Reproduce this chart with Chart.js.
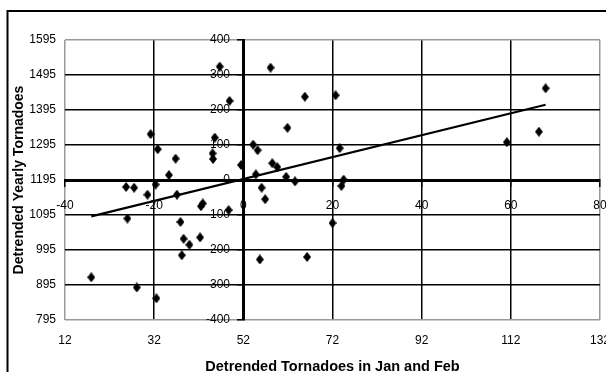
<!DOCTYPE html>
<html>
<head>
<meta charset="utf-8">
<script src="https://cdn.jsdelivr.net/npm/chart.js@4.4.0/dist/chart.umd.min.js"></script>
<style>
  html, body { margin: 0; padding: 0; background: #fff; }
  #wrap { width: 606px; height: 372px; }
</style>
</head>
<body>
<div id="wrap"><canvas id="tornadoChart" width="606" height="372"></canvas></div>
<script>
// detrended Jan+Feb tornado counts vs detrended yearly totals (one point per year)
const janFebDetrended = [
  -34.1, -26.0, -23.9, -19.5, -26.3, -24.5, -21.5, -19.7, -20.8, -19.2,
  -16.7, -15.2, -14.9, -14.1, -13.4, -12.1, -13.8, -9.7, -9.5, -9.1,
  -6.9, -6.8, -6.4, -5.3, -3.1, -3.3, -0.5, 2.2, 3.2, 2.8,
  4.1, 4.9, 3.7, 6.1, 9.9, 6.5, 7.6, 9.6, 11.6, 13.8,
  14.3, 20.7, 21.6, 22.5, 22.0, 20.0, 59.1, 66.3, 67.8
];
const yearlyDetrended = [
  -278, -110, -307, -338, -20, -22, -42, -13, 131, 88,
  14, 61, -42, -120, -168, -185, -215, -164, -75, -67,
  76, 60, 121, 324, 226, -86, 43, 101, 85, 16,
  -22, -55, -227, 321, 149, 48, 37, 9, -4, 238,
  -220, 242, 91, 1, -17, -123, 108, 138, 262
];

// fitted trend line, end points
const trendX = [-34.1, 67.8];
const trendY = [-104, 215];

// outer axes (raw counts) and inner axes (deviations)
const bottomTicks = [12, 32, 52, 72, 92, 112, 132];
const leftTicks = [795, 895, 995, 1095, 1195, 1295, 1395, 1495, 1595];
const innerXTicks = [-40, -20, 0, 20, 40, 60, 80];
const innerYTicks = [-400, -300, -200, -100, 0, 100, 200, 300, 400];

const FONT = 'Arial, "Liberation Sans", sans-serif';

// small black diamond used as the point marker
const diamond = document.createElement('canvas');
diamond.width = 8;
diamond.height = 10;
const dctx = diamond.getContext('2d');
dctx.fillStyle = '#000';
dctx.beginPath();
dctx.moveTo(4, 0);
dctx.lineTo(8, 5);
dctx.lineTo(4, 10);
dctx.lineTo(0, 5);
dctx.closePath();
dctx.fill();

const points = janFebDetrended.map((x, i) => ({ x: x, y: yearlyDetrended[i] }));
const trend = trendX.map((x, i) => ({ x: x, y: trendY[i] }));

const setTicks = (list) => (scale) => {
  scale.ticks = list.map(v => ({ value: v }));
};

// label overflow of every axis must not shrink the plot area
const noOverflow = (scale) => {
  scale.paddingLeft = 0;
  scale.paddingRight = 0;
  scale.paddingTop = 0;
  scale.paddingBottom = 0;
};

const gridColor = (count) => (ctx) =>
  (ctx.index === 0 || ctx.index === count - 1) ? '#9a9a9a' : '#000';

const frame = {
  id: 'frame',
  beforeDraw(chart) {
    const c = chart.ctx;
    c.save();
    c.fillStyle = '#fff';
    c.fillRect(0, 0, chart.width, chart.height);
    c.restore();
  },
  afterDraw(chart) {
    const c = chart.ctx;
    c.save();
    c.strokeStyle = '#000';
    c.lineWidth = 2;
    c.strokeRect(7.5, 11, 640, 420);
    c.restore();
  }
};

const tickFont = { family: FONT, size: 12 };

new Chart(document.getElementById('tornadoChart'), {
  type: 'scatter',
  data: {
    datasets: [
      {
        label: 'Years',
        data: points,
        xAxisID: 'x2',
        yAxisID: 'y2',
        pointStyle: diamond,
        pointRadius: 4,
        showLine: false
      },
      {
        label: 'Trend',
        type: 'line',
        data: trend,
        xAxisID: 'x2',
        yAxisID: 'y2',
        borderColor: '#000',
        borderWidth: 2.2,
        pointRadius: 0,
        fill: false,
        tension: 0
      }
    ]
  },
  options: {
    responsive: false,
    animation: false,
    layout: { padding: { top: 40, right: 6, bottom: 0, left: 0 } },
    plugins: {
      legend: { display: false },
      tooltip: { enabled: false }
    },
    scales: {
      x: {
        type: 'linear',
        position: 'bottom',
        min: 12,
        max: 132,
        afterBuildTicks: setTicks(bottomTicks),
        afterFit: (scale) => {
          noOverflow(scale);
          scale.height = 52;
        },
        grid: { color: gridColor(bottomTicks.length), lineWidth: 1.5, drawTicks: false },
        border: { display: false },
        ticks: { font: tickFont, color: '#000', padding: 13, callback: v => String(v) },
        title: {
          display: true,
          text: 'Detrended Tornadoes in Jan and Feb',
          color: '#000',
          font: { family: FONT, size: 14.5, weight: 'bold', lineHeight: 1 },
          padding: { top: 0, bottom: -2 }
        }
      },
      y: {
        type: 'linear',
        position: 'left',
        min: 795,
        max: 1595,
        afterBuildTicks: setTicks(leftTicks),
        afterFit: (scale) => {
          noOverflow(scale);
          scale.width = 65;
        },
        grid: { color: gridColor(leftTicks.length), lineWidth: 1.5, drawTicks: false },
        border: { display: false },
        ticks: { font: tickFont, color: '#000', padding: 9, callback: v => String(v) },
        title: {
          display: true,
          text: 'Detrended Yearly Tornadoes',
          color: '#000',
          font: { family: FONT, size: 14, weight: 'bold', lineHeight: 1 },
          padding: { top: 12, bottom: 0 }
        }
      },
      x2: {
        type: 'linear',
        axis: 'x',
        position: { y2: 0 },
        min: -40,
        max: 80,
        afterBuildTicks: setTicks(innerXTicks),
        afterFit: noOverflow,
        grid: { drawOnChartArea: false, drawTicks: true, tickLength: 5, color: '#000', lineWidth: 1.5 },
        border: { display: true, color: '#000', width: 3 },
        ticks: { font: tickFont, color: '#000', padding: 13, callback: v => String(v) }
      },
      y2: {
        type: 'linear',
        axis: 'y',
        position: { x2: 0 },
        min: -400,
        max: 400,
        afterBuildTicks: setTicks(innerYTicks),
        afterFit: noOverflow,
        grid: { drawOnChartArea: false, drawTicks: true, tickLength: 5, color: '#000', lineWidth: 1.5 },
        border: { display: true, color: '#000', width: 3 },
        // labels sit a little clear of the axis line
        ticks: { font: tickFont, color: '#000', padding: 8, callback: v => String(v) + '    ' }
      }
    }
  },
  plugins: [frame]
});
</script>
</body>
</html>
